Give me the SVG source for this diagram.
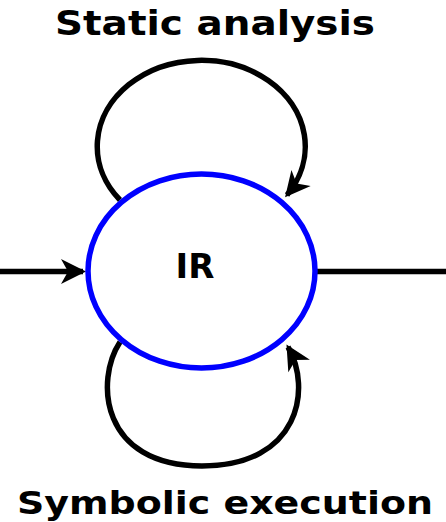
<svg xmlns="http://www.w3.org/2000/svg" width="446" height="522" viewBox="0 0 446 522">
  <style>
    .lbl { font-family: "DejaVu Sans", Verdana, sans-serif; font-weight: bold; fill: #000; text-anchor: middle; }
    .edge { fill: none; stroke: #000; stroke-width: 5.5; }
    .node { fill: #fff; stroke: #0000ff; stroke-width: 5.5; }
  </style>
  <defs>
    <marker id="arrow" markerUnits="userSpaceOnUse" markerWidth="40" markerHeight="40" refX="-3" refY="0" orient="auto" overflow="visible">
      <path d="M0,0 L-25,-12.5 L-18,0 L-25,12.5 Z" fill="#000"/>
    </marker>
  </defs>
  <rect width="446" height="522" fill="#fff"/>
  <g id="connectors">
    <path class="edge" d="M0,271.5 L83,271.5" marker-end="url(#arrow)"/>
    <path class="edge" d="M317,271.5 L446,271.5"/>
    <path class="edge" d="M120,200 A104,86 0 1 1 287,195" marker-end="url(#arrow)"/>
    <path class="edge" d="M120,342 C95,380 100,466 202,466 C300,466 312,388 288,347" marker-end="url(#arrow)"/>
  </g>
  <g id="node-ir">
    <ellipse class="node" cx="201.5" cy="271" rx="113.5" ry="97"/>
    <text class="lbl" x="195" y="278" font-size="34">IR</text>
  </g>
  <g id="label-static">
    <text class="lbl" x="215" y="35" font-size="33" textLength="320" lengthAdjust="spacingAndGlyphs">Static analysis</text>
  </g>
  <g id="label-symbolic">
    <text class="lbl" x="225" y="514" font-size="32" textLength="416" lengthAdjust="spacingAndGlyphs">Symbolic execution</text>
  </g>
</svg>
